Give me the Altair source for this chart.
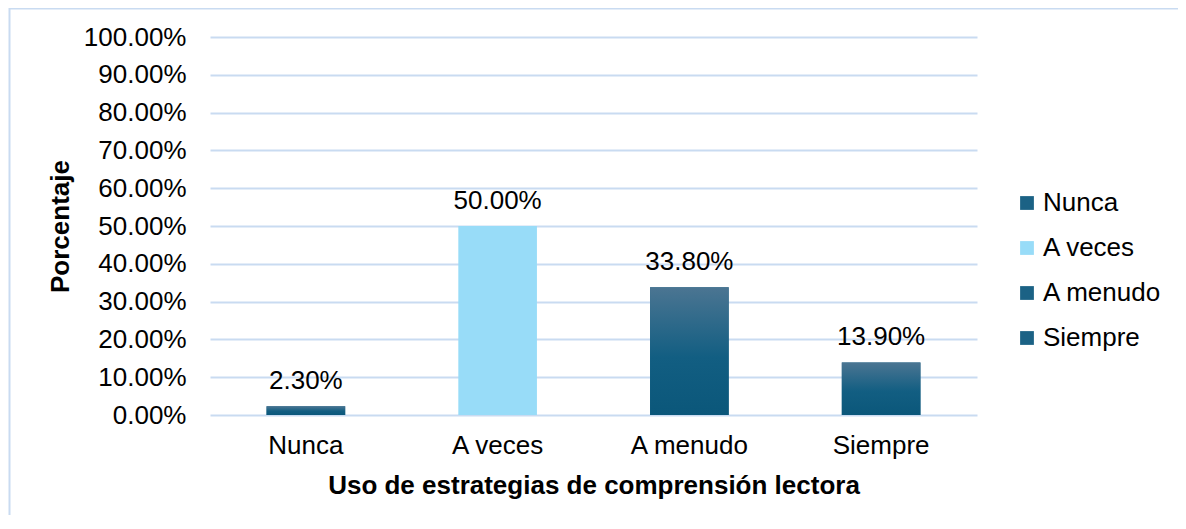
import altair as alt
import pandas as pd

categories = ["Nunca", "A veces", "A menudo", "Siempre"]
values = [0.023, 0.50, 0.338, 0.139]
legend_colors = ["#1b6285", "#98dcf8", "#1b6285", "#1b6285"]
y_ticks = [0.0, 0.1, 0.2, 0.3, 0.4, 0.5, 0.6, 0.7, 0.8, 0.9, 1.0]

df = pd.DataFrame({"cat": categories, "val": values})

FONT = "Liberation Sans"
FS = 26
W, H = 767, 378
PL, PT, PR, PB = 202, 29, 201, 100

grad = alt.LinearGradient(
    gradient="linear",
    stops=[
        alt.GradientStop(color="#4b7592", offset=0),
        alt.GradientStop(color="#125e82", offset=0.55),
        alt.GradientStop(color="#0b577a", offset=1),
    ],
    x1=0, x2=0, y1=0, y2=1,
)

x_enc = alt.X(
    "cat:N",
    sort=categories,
    scale=alt.Scale(paddingInner=0.59, paddingOuter=0.295),
    axis=alt.Axis(
        title="Uso de estrategias de comprensión lectora",
        labelAngle=0,
        labelFontSize=FS,
        labelFont=FONT,
        labelColor="#000000",
        labelPadding=17,
        ticks=False,
        domain=False,
        grid=False,
        titleFont=FONT,
        titleFontSize=FS,
        titleFontWeight="bold",
        titleColor="#000000",
        titlePadding=14,
    ),
)
y_enc = alt.Y(
    "val:Q",
    scale=alt.Scale(domain=[0, 1], nice=False),
    axis=alt.Axis(
        title="Porcentaje",
        format=".2%",
        values=y_ticks,
        labelOverlap=False,
        labelFontSize=FS,
        labelFont=FONT,
        labelColor="#000000",
        labelPadding=24,
        ticks=False,
        domain=False,
        grid=True,
        gridColor="#c9dbf1",
        gridWidth=2,
        titleFont=FONT,
        titleFontSize=FS,
        titleFontWeight="bold",
        titleColor="#000000",
        titlePadding=10,
    ),
)

base = alt.Chart(df)

legend_bars = base.mark_bar().encode(
    x=x_enc,
    y=y_enc,
    color=alt.Color(
        "cat:N",
        sort=categories,
        scale=alt.Scale(domain=categories, range=legend_colors),
        legend=alt.Legend(
            title=None,
            orient="none",
            legendX=804,
            legendY=153,
            symbolType="square",
            symbolSize=190,
            symbolStrokeWidth=0,
            labelFont=FONT,
            labelFontSize=FS,
            labelColor="#000000",
            labelOffset=3,
            rowPadding=19,
        ),
    ),
)

grad_bars = base.transform_filter(alt.datum.cat != "A veces").mark_bar(color=grad).encode(
    x=x_enc, y=y_enc
)

labels = base.mark_text(
    baseline="alphabetic", dy=-17, fontSize=FS, font=FONT, color="#000000"
).encode(
    x=x_enc,
    y=y_enc,
    text=alt.Text("val:Q", format=".2%"),
)

frame = base.transform_filter(alt.datum.cat == "Nunca").mark_rect(
    fillOpacity=0, stroke="#c9dbf1", strokeWidth=2
).encode(
    x=alt.value(-PL + 1.5),
    x2=alt.value(W + PR + 10),
    y=alt.value(-PT + 0.5),
    y2=alt.value(H + PB + 20),
)

chart = alt.layer(legend_bars, frame, grad_bars, labels).properties(
    width=W,
    height=H,
    padding={"left": PL, "top": PT, "right": PR, "bottom": PB},
    autosize=alt.AutoSizeParams(type="none"),
    background="#ffffff",
).configure_view(stroke="transparent", strokeWidth=0)

chart.save("out.html", embed_options={"renderer": "svg", "actions": False})
